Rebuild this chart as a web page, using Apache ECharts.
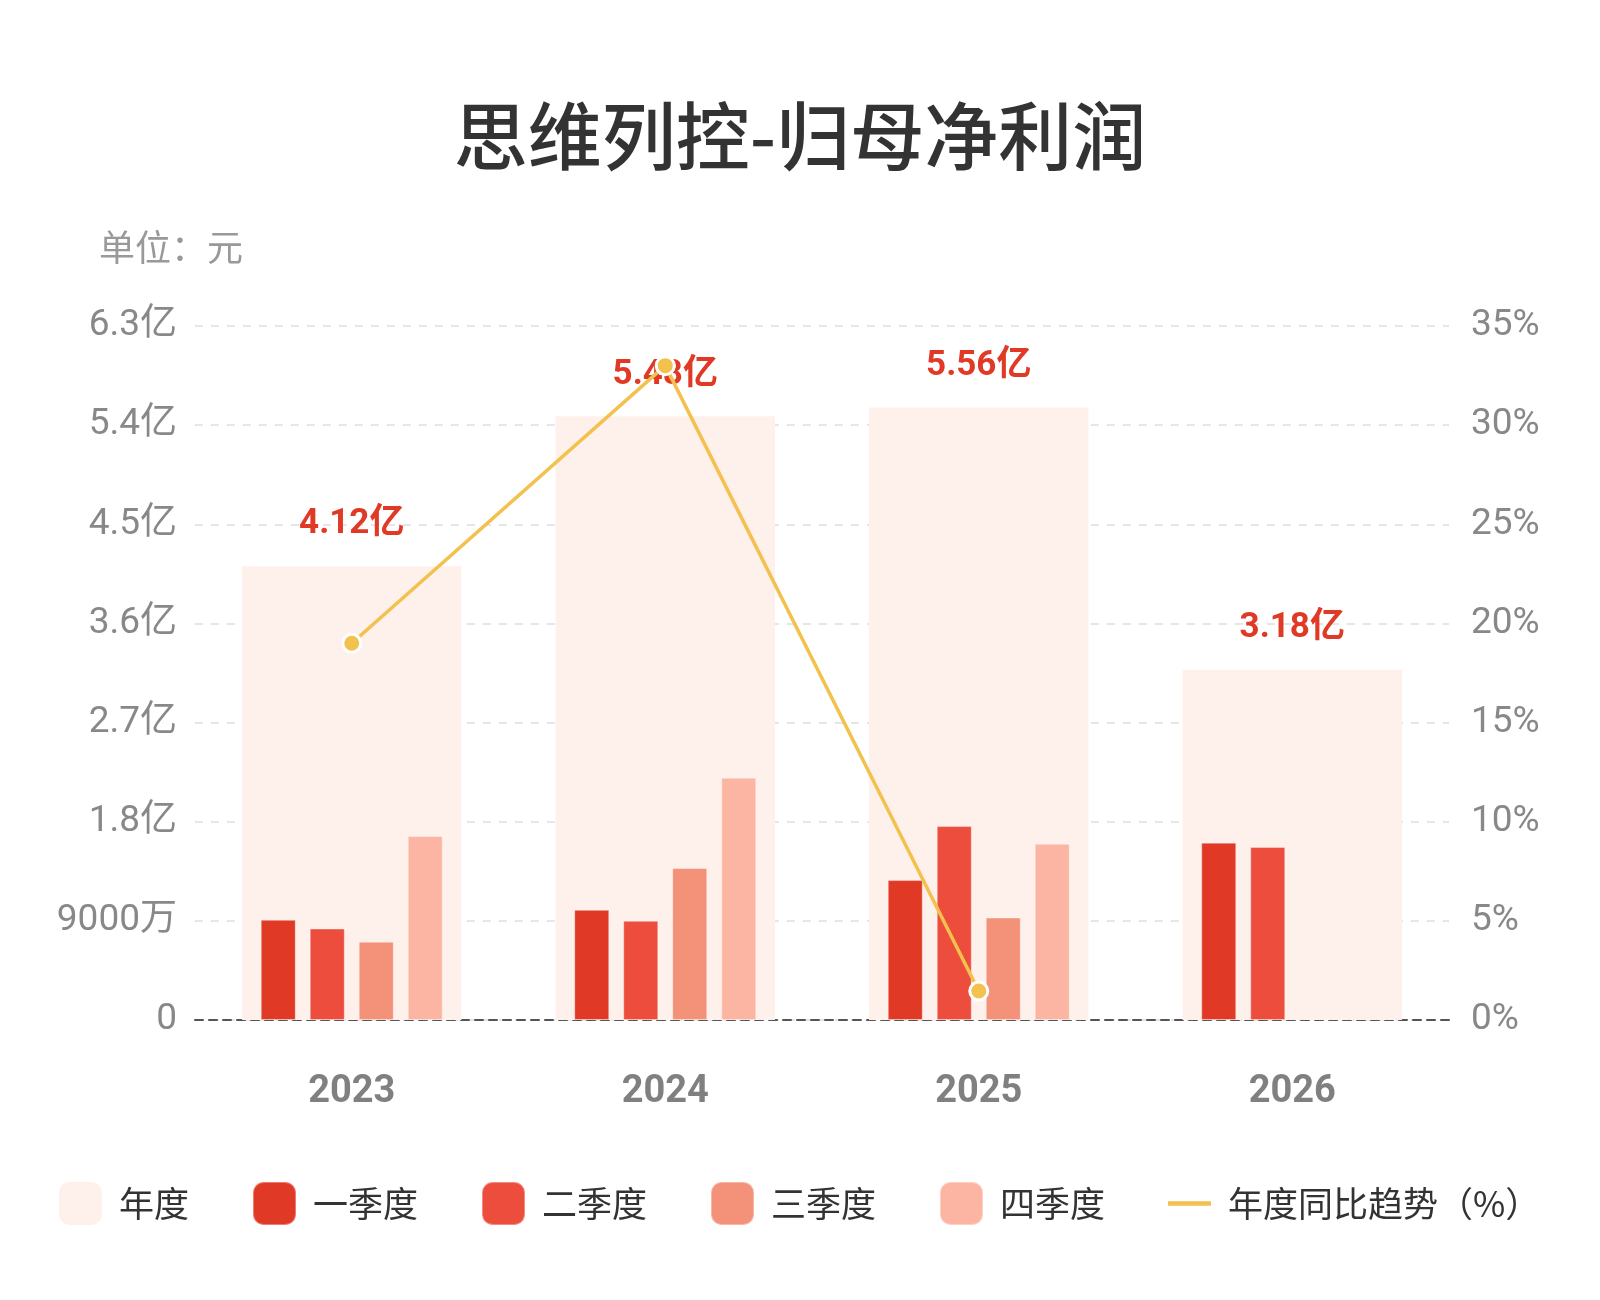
<!DOCTYPE html>
<html>
<head>
<meta charset="utf-8">
<script src="https://cdn.jsdelivr.net/npm/echarts@6/dist/echarts.min.js"></script>
<style>
html,body{margin:0;padding:0;background:#fff;}
#chart{width:1600px;height:1300px;}
</style>
</head>
<body>
<div id="chart"></div>
<script>
var categories = ['2023', '2024', '2025', '2026'];
var annual = [4.12, 5.48, 5.56, 3.18];
var q1 = [0.91, 1.00, 1.27, 1.61];
var q2 = [0.83, 0.90, 1.76, 1.57];
var q3 = [0.71, 1.38, 0.93, null];
var q4 = [1.67, 2.20, 1.60, null];
var yoy = [19.0, 33.0, 1.46, null];
var seriesNames = ['年度', '一季度', '二季度', '三季度', '四季度', '年度同比趋势（%）'];

var FONT = 'Roboto, "Noto Sans CJK SC", sans-serif';
var CJK = '"Noto Sans CJK SC", sans-serif';

var chart = echarts.init(document.getElementById('chart'));

function leftFmt(v) {
  if (v === 0) return '0';
  if (v < 1) return Math.round(v * 10000) + '万';
  return v.toFixed(1) + '亿';
}

var qColors = ['#E03A26', '#EC4D3C', '#F39179', '#FDB5A3'];
var qData = [q1, q2, q3, q4];

var series = [{
  name: seriesNames[0],
  type: 'bar',
  xAxisIndex: 1,
  yAxisIndex: 0,
  barWidth: '70%',
  z: 1,
  data: annual,
  itemStyle: { color: '#FEF0EB' },
  label: {
    show: true,
    position: 'top',
    distance: 24,
    color: '#E03A26',
    fontSize: 35,
    fontWeight: 'bold',
    fontFamily: FONT,
    formatter: function (p) { return p.value.toFixed(2) + '亿'; }
  }
}];

for (var i = 0; i < 4; i++) {
  series.push({
    name: seriesNames[i + 1],
    type: 'bar',
    xAxisIndex: 0,
    yAxisIndex: 0,
    barWidth: 35,
    barGap: '40%',
    z: 2,
    data: qData[i],
    itemStyle: { color: qColors[i], borderColor: 'rgba(255,255,255,0.35)', borderWidth: 1 }
  });
}

series.push({
  name: seriesNames[5],
  type: 'line',
  xAxisIndex: 0,
  yAxisIndex: 1,
  z: 5,
  data: yoy,
  symbol: 'circle',
  symbolSize: 18,
  lineStyle: { color: '#F2C14E', width: 3.5 },
  itemStyle: { color: '#F2C14E', borderColor: '#fff', borderWidth: 3 }
});

var option = {
  backgroundColor: '#fff',
  animation: false,
  title: {
    text: '思维列控-归母净利润',
    left: 'center',
    top: 94,
    textStyle: { fontSize: 74, fontWeight: 500, color: '#333', fontFamily: CJK }
  },
  graphic: [{
    type: 'text',
    left: 99,
    top: 229,
    style: { text: '单位：元', fontSize: 36, fill: '#999', fontFamily: CJK }
  }],
  legend: {
    left: 54,
    top: 1176,
    itemWidth: 43,
    itemHeight: 43,
    itemGap: 63,
    textStyle: { fontSize: 35, color: '#333', fontFamily: CJK, padding: [0, 0, 0, 12] },
    data: [
      { name: seriesNames[0], icon: 'roundRect' },
      { name: seriesNames[1], icon: 'roundRect' },
      { name: seriesNames[2], icon: 'roundRect' },
      { name: seriesNames[3], icon: 'roundRect' },
      { name: seriesNames[4], icon: 'roundRect' },
      { name: seriesNames[5], icon: 'path://M0,0 L40,0 L40,4 L0,4 Z',
        itemStyle: { color: '#F2C14E', borderWidth: 0 } }
    ]
  },
  grid: { left: 195, right: 151, top: 326, bottom: 280 },
  xAxis: [{
    type: 'category',
    data: categories,
    axisLine: { show: true, lineStyle: { color: '#555', type: [8, 6], width: 2 } },
    axisTick: { show: false },
    axisLabel: { fontSize: 38, color: '#808080', fontWeight: 'bold', margin: 53, fontFamily: FONT }
  }, {
    type: 'category',
    data: categories,
    show: false
  }],
  yAxis: [{
    type: 'value',
    min: 0,
    max: 6.3,
    interval: 0.9,
    axisLine: { show: false },
    axisTick: { show: false },
    axisLabel: { fontSize: 37, color: '#888', margin: 18, fontFamily: FONT, formatter: leftFmt },
    splitLine: { show: true, lineStyle: { color: '#dedede', type: [8, 8], width: 1.5 } }
  }, {
    type: 'value',
    min: 0,
    max: 35,
    interval: 5,
    position: 'right',
    axisLine: { show: false },
    axisTick: { show: false },
    axisLabel: { fontSize: 37, color: '#888', margin: 22, fontFamily: FONT, formatter: '{value}%' },
    splitLine: { show: false }
  }],
  series: series
};

chart.setOption(option);
</script>
</body>
</html>
